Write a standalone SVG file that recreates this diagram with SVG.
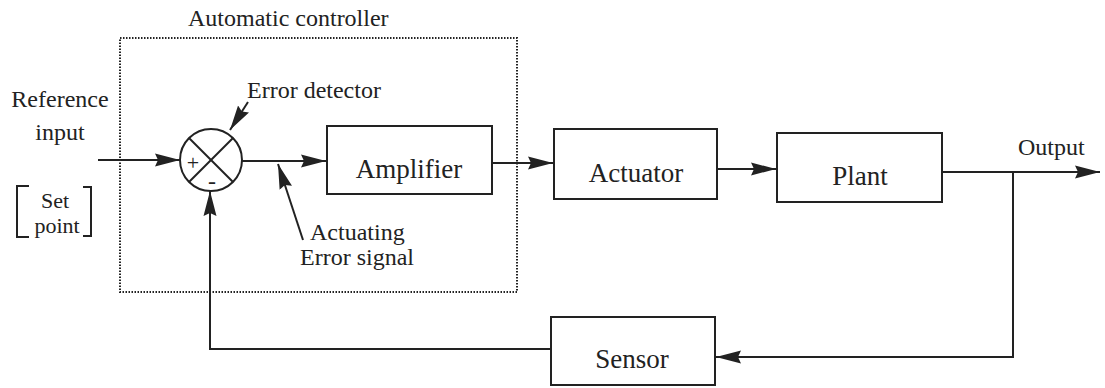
<svg xmlns="http://www.w3.org/2000/svg" width="1105" height="388" viewBox="0 0 1105 388" font-family="'Liberation Serif', 'DejaVu Serif', serif">
  <style>
    text { font-family: 'Liberation Serif', 'DejaVu Serif', serif; fill: #222; }
    .lbl { font-size: 24px; }
    .sp { font-size: 22px; text-anchor: middle; }
    .box-t { font-size: 27px; text-anchor: middle; }
    .box { fill: #fff; stroke: #222; stroke-width: 2; }
    .wire { fill: none; stroke: #222; stroke-width: 2; }
    .dots { fill: none; stroke: #222; stroke-width: 2; stroke-dasharray: 1.5 1.5; }
  </style>
  <defs>
    <marker id="ah" viewBox="0 0 25 14" refX="25" refY="7" markerWidth="25" markerHeight="14" markerUnits="userSpaceOnUse" orient="auto">
      <path d="M0,0.5 L25,7 L0,13.5 L3,7 Z" fill="#222"/>
    </marker>
  </defs>
  <rect width="1105" height="388" fill="#fff"/>

  <g id="controller">
    <rect class="dots" x="120" y="38" width="397" height="254"/>
    <text class="lbl" x="188" y="26">Automatic controller</text>
  </g>

  <g id="reference-input">
    <text class="lbl" x="60" y="107" text-anchor="middle">Reference</text>
    <text class="lbl" x="60" y="140" text-anchor="middle">input</text>
    <path class="wire" d="M29,186 L17,186 L17,237 L29,237"/>
    <path class="wire" d="M83,187 L91,187 L91,236 L83,236"/>
    <text class="sp" x="55" y="208">Set</text>
    <text class="sp" x="57" y="233">point</text>
  </g>

  <g id="error-detector">
    <circle cx="211" cy="160" r="31" fill="#fff" stroke="#222" stroke-width="2"/>
    <line class="wire" x1="189" y1="138" x2="233" y2="182"/>
    <line class="wire" x1="233" y1="138" x2="189" y2="182"/>
    <text x="193" y="170" font-size="22" text-anchor="middle">+</text>
    <text x="212" y="189" font-size="24" text-anchor="middle">-</text>
    <text class="lbl" x="247" y="98">Error detector</text>
  </g>

  <g id="amplifier">
    <rect class="box" x="327" y="126" width="165" height="68"/>
    <text class="box-t" x="409" y="178">Amplifier</text>
  </g>

  <g id="actuator">
    <rect class="box" x="554" y="129" width="163" height="70"/>
    <text class="box-t" x="636" y="182">Actuator</text>
  </g>

  <g id="plant">
    <rect class="box" x="777" y="133" width="165" height="69"/>
    <text class="box-t" x="860" y="185">Plant</text>
  </g>

  <g id="sensor">
    <rect class="box" x="551" y="317" width="164" height="68"/>
    <text class="box-t" x="632" y="368">Sensor</text>
  </g>

  <g id="output-label">
    <text class="lbl" x="1018" y="155">Output</text>
  </g>

  <g id="actuating-label">
    <text class="lbl" x="310" y="240">Actuating</text>
    <text class="lbl" x="300" y="265">Error signal</text>
  </g>

  <g id="connectors">
    <line class="wire" x1="98" y1="160" x2="180" y2="160" marker-end="url(#ah)"/>
    <line class="wire" x1="242" y1="161" x2="326" y2="161" marker-end="url(#ah)"/>
    <line class="wire" x1="492" y1="163" x2="553" y2="163" marker-end="url(#ah)"/>
    <line class="wire" x1="717" y1="169" x2="776" y2="169" marker-end="url(#ah)"/>
    <line class="wire" x1="942" y1="172" x2="1100" y2="172" marker-end="url(#ah)"/>
    <polyline class="wire" points="1013,172 1013,357 716,357" marker-end="url(#ah)"/>
    <polyline class="wire" points="551,349 210,349 210,191" marker-end="url(#ah)"/>
    <line class="wire" x1="248" y1="102" x2="230" y2="130" marker-end="url(#ah)"/>
    <line class="wire" x1="303" y1="240" x2="278" y2="164" marker-end="url(#ah)"/>
  </g>
</svg>
